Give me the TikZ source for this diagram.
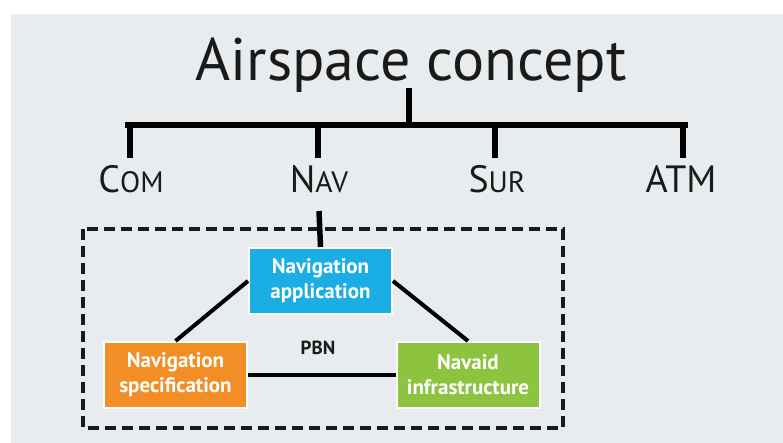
\documentclass[tikz,border=0pt]{standalone}
\usepackage{fontspec}
\setmainfont{PT Sans}
\definecolor{panelbg}{HTML}{E8ECEF}
\definecolor{appcyan}{HTML}{1AAEE5}
\definecolor{specorange}{HTML}{F38E26}
\definecolor{aidgreen}{HTML}{8CC440}
\definecolor{inkdark}{HTML}{1A1A1A}
\newcommand{\fakesc}[2]{{\fontsize{38}{40}\selectfont #1}{\fontsize{29.5}{30}\selectfont #2}}
\begin{document}
\begin{tikzpicture}[x=1pt,y=-1pt,
  treeline/.style={line width=5.5pt, draw=black},
  linkline/.style={line width=4pt, draw=black},
  cat/.style={anchor=base, text=inkdark, inner sep=0pt, font=\fontsize{38}{40}\selectfont},
  pbnbox/.style={draw=white, line width=2pt, minimum width=143pt, minimum height=66pt,
    inner sep=0pt, text=white, align=center, font=\bfseries\fontsize{21}{25}\selectfont}]
\useasboundingbox (0,0) rectangle (783,443);
\fill[white] (0,0) rectangle (783,443);
\fill[panelbg] (11,14) rectangle (783,443);
% title
\node[anchor=base, inner sep=0pt, text=inkdark, font=\fontsize{60}{62}\selectfont] (title) at (411,81) {Airspace concept};
% tree coordinates
\coordinate (stemtop) at (409,88);
\coordinate (stembot) at (409,125);
\coordinate (barL) at (128,125);
\coordinate (barR) at (685,125);
\coordinate (dCom) at (130,125);
\coordinate (dNav) at (318,125);
\coordinate (dSur) at (495,125);
\coordinate (dAtm) at (683,125);
\coordinate (eCom) at (130,158);
\coordinate (eNav) at (318,158);
\coordinate (eSur) at (495,158);
\coordinate (eAtm) at (683,158);
% labels
\node[cat] (com) at (131,193) {\fakesc{C}{OM}};
\node[cat] (nav) at (319,193) {\fakesc{N}{AV}};
\node[cat] (sur) at (497,193) {\fakesc{S}{UR}};
\node[cat] (atm) at (681,193) {ATM};
% tree lines
\draw[treeline] (stemtop) -- (stembot);
\draw[treeline, line cap=rect] (barL) -- (barR);
\draw[treeline] (dCom) -- (eCom);
\draw[treeline] (dNav) -- (eNav);
\draw[treeline] (dSur) -- (eSur);
\draw[treeline] (dAtm) -- (eAtm);
% dashed frame
\draw[line width=3.5pt, dash pattern=on 11pt off 6pt, draw=inkdark] (83,229) rectangle (563,428);
% boxes
\node[pbnbox, fill=appcyan] (app) at (320.5,281) {Navigation\\application};
\node[pbnbox, fill=specorange] (spec) at (175.5,375) {Navigation\\specification};
\node[pbnbox, fill=aidgreen] (aid) at (468,375) {Navaid\\infrastructure};
\node[font=\bfseries\fontsize{19}{20}\selectfont, text=inkdark, inner sep=0pt] (pbn) at (318,348) {PBN};
% nav connector
\coordinate (navdrop) at (319,211);
\draw[treeline] (navdrop) -- (app.north);
% links
\draw[linkline] (app.west) -- (spec.north);
\draw[linkline] (app.east) -- (aid.north);
\draw[linkline] (spec.east) -- (aid.west);
\end{tikzpicture}
\end{document}
